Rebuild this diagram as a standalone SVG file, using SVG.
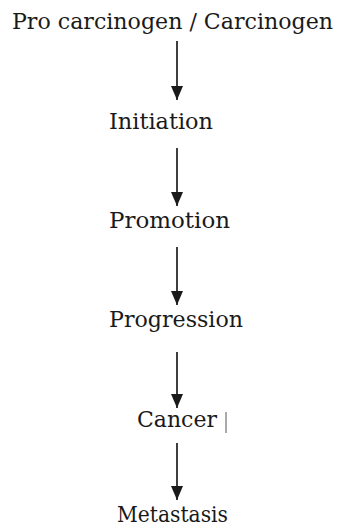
<svg xmlns="http://www.w3.org/2000/svg" width="340" height="529" viewBox="0 0 340 529">
<style>
text{font-family:'DejaVu Serif','Liberation Serif',serif;font-size:23px;fill:#1a1a1a}
.c{stroke:#2a2a2a;stroke-width:1.8;fill:none}
</style>
<defs>
<marker id="ah" viewBox="0 0 14 12" refX="14" refY="6" markerWidth="14" markerHeight="12" markerUnits="userSpaceOnUse" orient="auto">
<path d="M0,0 L14,6 L0,12 z" fill="#1a1a1a"/>
</marker>
</defs>
<rect width="340" height="529" fill="#fff"/>
<g id="connectors">
<line class="c" x1="177" y1="41" x2="177" y2="100" marker-end="url(#ah)"/>
<line class="c" x1="177" y1="148" x2="177" y2="206" marker-end="url(#ah)"/>
<line class="c" x1="177" y1="247" x2="177" y2="305" marker-end="url(#ah)"/>
<line class="c" x1="177" y1="352" x2="177" y2="408" marker-end="url(#ah)"/>
<line class="c" x1="177" y1="443" x2="177" y2="500" marker-end="url(#ah)"/>
</g>
<g id="n0" transform="translate(12,29) scale(1,1.15)"><text x="0" y="0" style="font-size:20px" textLength="321" lengthAdjust="spacingAndGlyphs">Pro carcinogen / Carcinogen</text></g>
<g id="n1"><text x="109" y="129" textLength="104" lengthAdjust="spacingAndGlyphs">Initiation</text></g>
<g id="n2"><text x="109" y="228" textLength="121" lengthAdjust="spacingAndGlyphs">Promotion</text></g>
<g id="n3"><text x="109" y="327" textLength="134" lengthAdjust="spacingAndGlyphs">Progression</text></g>
<g id="n4"><text x="137" y="427" textLength="80" lengthAdjust="spacingAndGlyphs">Cancer</text><line x1="226" y1="412" x2="226" y2="433" stroke="#555" stroke-width="1"/></g>
<g id="n5"><text x="117" y="522" textLength="111" lengthAdjust="spacingAndGlyphs">Metastasis</text></g>
</svg>
